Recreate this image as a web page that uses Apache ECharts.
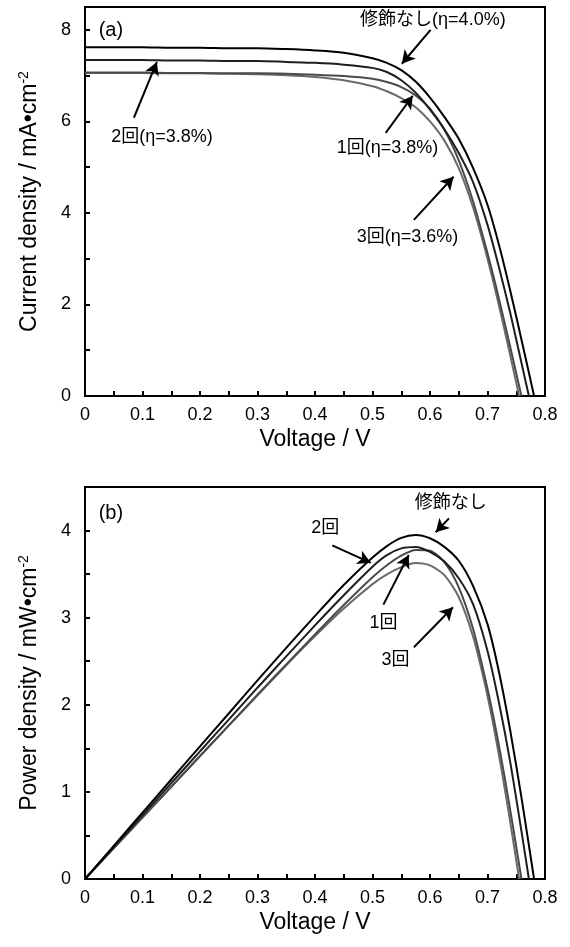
<!DOCTYPE html>
<html>
<head>
<meta charset="utf-8">
<script src="https://cdn.jsdelivr.net/npm/echarts@6/dist/echarts.min.js"></script>
<style>
html,body{margin:0;padding:0;background:#fff;}
#c{width:570px;height:947px;}
</style>
</head>
<body>
<div id="c"></div>
<script>
// ---- data ----
// 修飾なし
const vNone = [0,0.05,0.1,0.15,0.2,0.25,0.3,0.35,0.4,0.45,0.5,0.525,0.55,0.575,0.6,0.625,0.65,0.675,0.7,0.72,0.74,0.76,0.781];
const jNone = [7.62,7.62,7.62,7.61,7.61,7.60,7.60,7.58,7.55,7.50,7.38,7.28,7.12,6.87,6.52,6.10,5.62,4.98,4.18,3.30,2.28,1.18,0];
const pNone = [0,0.381,0.762,1.142,1.522,1.900,2.280,2.653,3.020,3.375,3.690,3.822,3.916,3.950,3.912,3.813,3.653,3.362,2.926,2.376,1.687,0.897,0];
// 2回
const v2 = [0,0.05,0.1,0.15,0.2,0.25,0.3,0.35,0.4,0.45,0.5,0.525,0.55,0.575,0.6,0.625,0.65,0.675,0.7,0.72,0.74,0.76,0.772];
const j2 = [7.34,7.34,7.34,7.33,7.33,7.32,7.32,7.30,7.28,7.24,7.17,7.08,6.90,6.63,6.26,5.83,5.31,4.67,3.74,2.81,1.79,0.67,0];
const p2 = [0,0.367,0.734,1.100,1.466,1.830,2.196,2.555,2.912,3.258,3.585,3.717,3.795,3.812,3.756,3.644,3.452,3.152,2.618,2.023,1.325,0.509,0];
// 1回
const v1 = [0,0.05,0.1,0.15,0.2,0.25,0.3,0.35,0.4,0.45,0.5,0.525,0.55,0.575,0.6,0.625,0.65,0.675,0.7,0.715,0.73,0.745,0.759];
const j1 = [7.07,7.07,7.07,7.06,7.06,7.05,7.05,7.04,7.02,6.99,6.93,6.86,6.75,6.57,6.28,5.82,5.15,4.25,3.12,2.38,1.59,0.77,0];
const p1 = [0,0.354,0.707,1.059,1.412,1.763,2.115,2.464,2.808,3.146,3.465,3.602,3.713,3.778,3.768,3.638,3.348,2.869,2.184,1.702,1.161,0.574,0];
// 3回
const v3 = [0,0.05,0.1,0.15,0.2,0.25,0.3,0.35,0.4,0.45,0.5,0.525,0.55,0.575,0.6,0.625,0.65,0.675,0.695,0.71,0.725,0.74,0.755];
const j3 = [7.06,7.06,7.06,7.05,7.05,7.04,7.03,7.01,6.97,6.90,6.77,6.66,6.51,6.31,6.00,5.58,4.98,4.12,3.24,2.50,1.70,0.86,0];
const p3 = [0,0.353,0.706,1.058,1.410,1.760,2.109,2.454,2.788,3.105,3.385,3.497,3.581,3.628,3.600,3.488,3.237,2.781,2.252,1.775,1.233,0.636,0];

// annotation texts [V, value, text]
const labelsA = [
  [0.605, 8.22, '修飾なし(η=4.0%)'],
  [0.134, 5.66, '2回(η=3.8%)'],
  [0.526, 5.42, '1回(η=3.8%)'],
  [0.561, 3.48, '3回(η=3.6%)']
];
// arrows [[V0, y0], [V1, y1]] (tail -> head)
const arrowsA = [
  [[0.601, 8.00], [0.551, 7.26]],
  [[0.085, 6.08], [0.125, 7.30]],
  [[0.523, 5.75], [0.570, 6.56]],
  [[0.572, 3.85], [0.641, 4.79]]
];
const labelsB = [
  [0.636, 4.32, '修飾なし'],
  [0.418, 4.03, '2回'],
  [0.519, 2.94, '1回'],
  [0.540, 2.51, '3回']
];
const arrowsB = [
  [[0.633, 4.14], [0.610, 3.98]],
  [[0.430, 3.83], [0.497, 3.63]],
  [[0.519, 3.15], [0.563, 3.72]],
  [[0.572, 2.66], [0.640, 3.12]]
];
const panelTags = [[0.045, 7.98, '(a)'], [0.045, 4.2, '(b)']];

const FONT = '"Liberation Sans", Arial, "Noto Sans CJK JP", sans-serif';
const zip = (a, b) => a.map((x, i) => [x, b[i]]);

function xAxisCfg(gi) {
  return {
    gridIndex: gi, type: 'value', min: 0, max: 0.8, interval: 0.05,
    name: 'Voltage / V', nameLocation: 'middle', nameGap: 32,
    nameTextStyle: {color: '#000', fontSize: 23, fontFamily: FONT},
    axisLine: {lineStyle: {color: '#000', width: 2}},
    axisTick: {inside: true, length: 5, lineStyle: {color: '#000', width: 2}},
    axisLabel: {
      color: '#000', fontSize: 18, fontFamily: FONT, margin: 10,
      formatter: v => (Math.round(v * 100) % 10 === 0) ? String(Math.round(v * 10) / 10) : ''
    },
    splitLine: {show: false}
  };
}
function yAxisCfg(gi, max, interval, labelStep, name) {
  return {
    gridIndex: gi, type: 'value', min: 0, max: max, interval: interval,
    name: name, nameLocation: 'middle', nameGap: 42, nameRotate: 90,
    nameTextStyle: {color: '#000', fontSize: 23, fontFamily: FONT,
      rich: {sup: {fontSize: 14, fontFamily: FONT, color: '#000', padding: [0, 0, 12, 0]}}},
    axisLine: {lineStyle: {color: '#000', width: 2}},
    axisTick: {inside: true, length: 5, lineStyle: {color: '#000', width: 2}},
    axisLabel: {
      color: '#000', fontSize: 18, fontFamily: FONT, margin: 14,
      formatter: v => {
        const k = Math.round(v / labelStep * 1000) / 1000;
        return (Math.abs(k - Math.round(k)) < 1e-6 && v <= max - interval / 2 + 1e-9) ? String(Math.round(v)) : '';
      }
    },
    splitLine: {show: false}
  };
}

function curve(name, gi, data, color, z) {
  return {
    name: name, type: 'line', xAxisIndex: gi, yAxisIndex: gi, data: data,
    showSymbol: false, smooth: 0.25, z: z,
    lineStyle: {color: color, width: 2}, itemStyle: {color: color}, silent: true
  };
}
function arrowsSeries(gi, arrows) {
  return {
    type: 'line', xAxisIndex: gi, yAxisIndex: gi, data: [], z: 10, silent: true,
    markLine: {
      silent: true, animation: false, symbol: ['none', 'arrow'], symbolSize: [11, 13],
      lineStyle: {color: '#000', width: 2, type: 'solid'},
      label: {show: false},
      data: arrows.map(a => [{coord: a[0]}, {coord: a[1]}])
    }
  };
}

const chart = echarts.init(document.getElementById('c'), null, {renderer: 'canvas'});
chart.setOption({
  animation: false,
  backgroundColor: '#fff',
  grid: [
    {left: 85, right: 25, top: 7, height: 389, show: true, borderColor: '#000', borderWidth: 2, containLabel: false},
    {left: 85, right: 25, top: 487, height: 392, show: true, borderColor: '#000', borderWidth: 2, containLabel: false}
  ],
  xAxis: [xAxisCfg(0), xAxisCfg(1)],
  yAxis: [
    yAxisCfg(0, 8.5, 1, 2, 'Current density / mA•cm{sup|-2}'),
    yAxisCfg(1, 4.5, 0.5, 1, 'Power density / mW•cm{sup|-2}')
  ],
  series: [
    curve('3回', 0, zip(v3, j3), '#6a6a6a', 2),
    curve('1回', 0, zip(v1, j1), '#4a4a4a', 3),
    curve('2回', 0, zip(v2, j2), '#1e1e1e', 4),
    curve('修飾なし', 0, zip(vNone, jNone), '#000', 5),
    curve('3回', 1, zip(v3, p3), '#6a6a6a', 2),
    curve('1回', 1, zip(v1, p1), '#4a4a4a', 3),
    curve('2回', 1, zip(v2, p2), '#1e1e1e', 4),
    curve('修飾なし', 1, zip(vNone, pNone), '#000', 5),
    arrowsSeries(0, arrowsA),
    arrowsSeries(1, arrowsB)
  ]
});

// text annotations placed through the axes' own scales
function textEl(gi, item, size) {
  const pt = chart.convertToPixel({gridIndex: gi}, [item[0], item[1]]);
  return {
    type: 'text', x: pt[0], y: pt[1], z: 100, silent: true,
    style: {text: item[2], fill: '#000', font: size + 'px ' + FONT, align: 'center', verticalAlign: 'middle'}
  };
}
const g = [];
labelsA.forEach(l => g.push(textEl(0, l, 18)));
labelsB.forEach(l => g.push(textEl(1, l, 18)));
g.push(textEl(0, panelTags[0], 20));
g.push(textEl(1, panelTags[1], 20));
chart.setOption({graphic: g});
</script>
</body>
</html>
